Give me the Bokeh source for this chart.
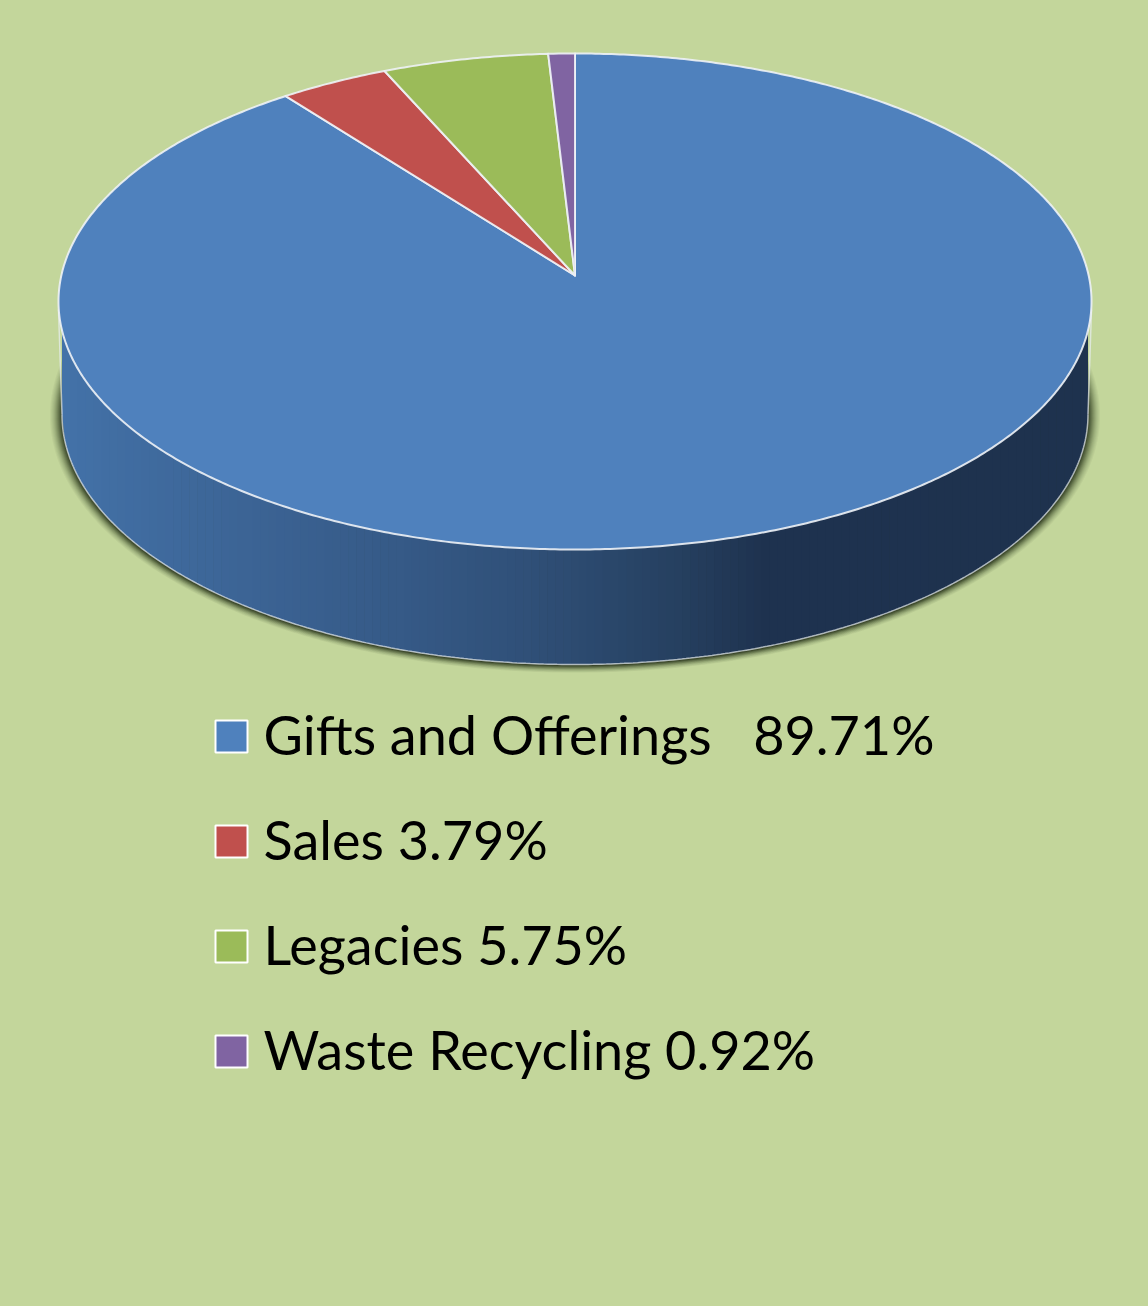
import numpy as np
from bokeh.plotting import figure
from bokeh.models import Range1d
from bokeh.core.properties import value
from bokeh.embed import file_html
from bokeh.resources import INLINE

# ---- data ----
categories = ["Gifts and Offerings", "Sales", "Legacies", "Waste Recycling"]
percents = [89.71, 3.79, 5.75, 0.92]
separators = [" \u00a0 ", " ", " ", " "]
colors = ["#4f81bd", "#c0504d", "#9bbb59", "#8064a2"]
BG = "#c3d69b"

# side wall shading: x position (px) -> colour
wall_x = [60, 100, 250, 400, 530, 680, 760, 1092]
wall_r = [0x44, 0x42, 0x3c, 0x36, 0x30, 0x26, 0x1f, 0x1e]
wall_g = [0x73, 0x6f, 0x64, 0x5a, 0x50, 0x40, 0x33, 0x32]
wall_b = [0xa9, 0xa4, 0x95, 0x87, 0x78, 0x60, 0x50, 0x4e]

# ---- geometry of the tilted disc (page pixels) ----
CX, CY, RX, RY = 574.5, 301.0, 516.5, 248.0
APEX_Y = 275.0
D = (APEX_Y - CY) / RY
LOW_CY, LOW_RX, LOW_RY = 414.0, 513.0, 250.0


def disc_point(turn):
    """Project a clockwise fraction of the circle through the perspective tilt."""
    a = 2 * np.pi * np.asarray(turn)
    ux, uy = np.sin(a), -np.cos(a)
    den = 1 + D * uy
    return CX + RX * ux * np.sqrt(1 - D * D) / den, CY + RY * (uy + D) / den


p = figure(width=1148, height=1306, output_backend="svg", toolbar_location=None,
           x_range=Range1d(0, 1148), y_range=Range1d(1306, 0),
           background_fill_color=BG, border_fill_color=BG, outline_line_color=None,
           min_border=0)
p.axis.visible = False
p.grid.visible = False

t = np.linspace(0, 2 * np.pi, 721)

# soft shadow behind the wall
N_SH = 12
for k in np.arange(N_SH, -1, -1):
    p.patch(CX + (LOW_RX + k) * np.cos(t), LOW_CY + 1 + (LOW_RY + k * 0.6) * np.sin(t),
            fill_color="#1c2410", fill_alpha=0.04 + 0.26 * ((N_SH - k) / N_SH) ** 2, line_color=None)

# wall strips
edges = np.linspace(CX - LOW_RX, CX + LOW_RX, 130)
for x0, x1 in zip(edges[:-1], edges[1:]):
    xs = np.linspace(x0, x1 + 0.6, 4)
    xs = np.clip(xs, CX - LOW_RX, CX + LOW_RX)
    top = CY + RY * np.sqrt(np.clip(1 - ((xs - CX) / RX) ** 2, 0, 1))
    bot = LOW_CY + LOW_RY * np.sqrt(np.clip(1 - ((xs - CX) / LOW_RX) ** 2, 0, 1))
    xm = 0.5 * (x0 + x1)
    col = "#%02x%02x%02x" % (int(np.interp(xm, wall_x, wall_r)),
                             int(np.interp(xm, wall_x, wall_g)),
                             int(np.interp(xm, wall_x, wall_b)))
    p.patch(np.r_[xs, xs[::-1]], np.r_[top - 6, bot[::-1]], fill_color=col, line_color=None)

# wall silhouette
tl = np.linspace(0, np.pi, 361)
p.line(CX + LOW_RX * np.cos(tl), LOW_CY + LOW_RY * np.sin(tl),
       line_color="#e8eef2", line_alpha=0.7, line_width=1.5)
for side in (-1, 1):
    xe = np.array([CX + side * RX, CX + side * LOW_RX])
    p.line(xe, [CY + 8, LOW_CY], line_color="#e8eef2", line_alpha=0.7, line_width=1.5)

# top slices, clockwise from twelve o'clock
total = sum(percents)
start = 0.0
for pct, col in zip(percents, colors):
    end = start + pct / total
    n = max(3, int((end - start) * 720))
    xs, ys = disc_point(np.linspace(start, end, n))
    p.patch(np.r_[CX, xs], np.r_[APEX_Y, ys], fill_color=col, line_color="#eef2f6",
            line_alpha=0.9, line_width=2, line_join="round")
    start = end

# legend
rows = [736, 841, 946, 1051]
for name, sep, pct, col, row in zip(categories, separators, percents, colors, rows):
    p.rect([231], [row], width=32, height=32, fill_color=col, line_color="white", line_width=2)
    p.text([263], [row - 2], text=[f"{name}{sep}{pct:.2f}%"], text_font=value("Lato"),
           text_font_size="54px", text_color="black", text_baseline="alphabetic", text_align="left")

html = file_html(p, INLINE)
html = html.replace("</head>", "<style>html,body{background:%s;}</style></head>" % BG, 1)
open("out.html", "w").write(html)
